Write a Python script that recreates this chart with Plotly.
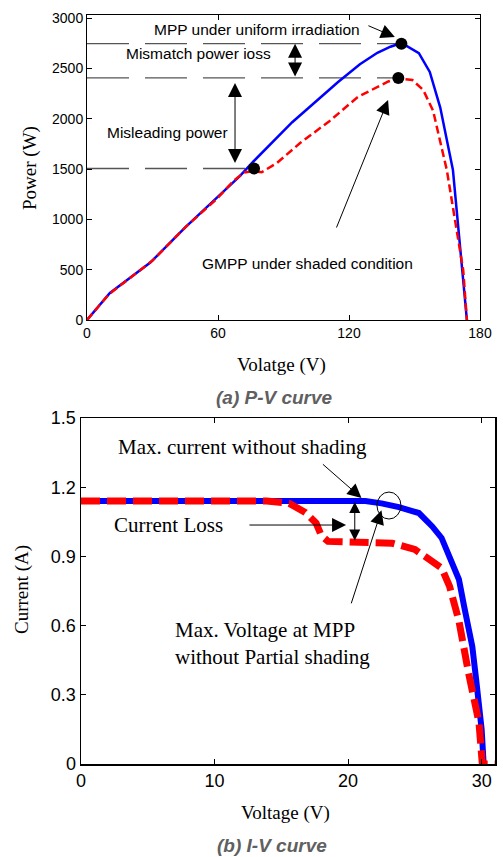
import plotly.graph_objects as go

W, H = 503, 857

# ---------------- data: (a) P-V curve ----------------
pv_v_uniform = [0, 10.5, 29, 45, 60, 70, 76, 94, 115, 125, 133, 139, 144, 152, 157, 161.8, 167.6, 171.7, 174]
pv_p_uniform = [0, 268, 570, 920, 1225, 1430, 1570, 1965, 2365, 2540, 2655, 2715, 2752, 2652, 2464, 2110, 1490, 497, 0]

pv_v_shaded = [0, 10, 30, 45, 60, 67, 72, 76, 80, 87, 97.6, 111, 124, 133, 138, 142.6, 149, 154, 158.5, 164.8, 168.5, 172.3, 174]
pv_p_shaded = [0, 255, 590, 920, 1215, 1380, 1465, 1478, 1468, 1560, 1758, 1975, 2215, 2320, 2370, 2400, 2384, 2285, 2080, 1490, 993, 497, 0]

# marked points: MPP (uniform), GMPP (shaded), local peak (shaded)
mark_v = [144, 142.6, 76.5]
mark_p = [2745, 2405, 1505]

pv_xticks = [0, 60, 120, 180]
pv_yticks = [0, 500, 1000, 1500, 2000, 2500, 3000]

# ---------------- data: (b) I-V curve ----------------
iv_v_uniform = [0, 21.3, 22.5, 23.8, 25.3, 26.3, 27.0, 27.8, 28.3, 28.7, 29.3, 29.6, 30.0, 30.15]
iv_i_uniform = [1.14, 1.14, 1.13, 1.114, 1.088, 1.03, 0.98, 0.87, 0.80, 0.68, 0.51, 0.36, 0.15, 0.0]

iv_v_shaded = [0, 13.9, 15.6, 16.8, 17.6, 18.0, 18.5, 20, 22, 23.3, 25, 26.3, 27.0, 27.6, 28.3, 29.0, 29.8, 30.05, 31]
iv_i_shaded = [1.14, 1.14, 1.13, 1.09, 1.045, 0.99, 0.965, 0.962, 0.96, 0.957, 0.93, 0.876, 0.85, 0.77, 0.62, 0.40, 0.18, 0.0, 0.0]

iv_xticks = [0, 10, 20, 30]
iv_yticks = [0, 0.3, 0.6, 0.9, 1.2, 1.5]
iv_yticktext = ["0", "0.3", "0.6", "0.9", "1.2", "1.5"]


def px(x):
    return x / W


def py(y):
    return 1 - y / H


SANS = "Liberation Sans, Arial, sans-serif"
SERIF = "Liberation Serif, Times New Roman, serif"

fig = go.Figure()

fig.add_trace(go.Scatter(x=pv_v_uniform, y=pv_p_uniform, mode="lines",
                         line=dict(color="#0000ff", width=2.5), xaxis="x", yaxis="y"))
fig.add_trace(go.Scatter(x=pv_v_shaded, y=pv_p_shaded, mode="lines",
                         line=dict(color="#ff0000", width=2.5, dash="8px,4px"), xaxis="x", yaxis="y"))
fig.add_trace(go.Scatter(x=mark_v, y=mark_p, mode="markers",
                         marker=dict(color="black", size=12), xaxis="x", yaxis="y"))

fig.add_trace(go.Scatter(x=iv_v_uniform, y=iv_i_uniform, mode="lines",
                         line=dict(color="#0000ff", width=6), xaxis="x2", yaxis="y2"))
fig.add_trace(go.Scatter(x=iv_v_shaded, y=iv_i_shaded, mode="lines",
                         line=dict(color="#ff0000", width=7, dash="19px,7px"), xaxis="x2", yaxis="y2"))

axis_common = dict(showline=True, mirror="ticks", ticks="inside", ticklen=5, automargin=False,
                   linecolor="black", tickcolor="black", showgrid=False, zeroline=False)

fig.update_layout(
    width=W, height=H,
    margin=dict(l=0, r=0, t=0, b=0, autoexpand=False),
    paper_bgcolor="white", plot_bgcolor="white",
    showlegend=False, hovermode=False,
    xaxis=dict(domain=[px(87), px(480)], range=[0, 180], tickvals=pv_xticks,
               tickfont=dict(family=SANS, size=14, color="black"), linewidth=1, anchor="y",
               **axis_common),
    yaxis=dict(domain=[py(320), py(15)], range=[0, 3030], tickvals=pv_yticks,
               tickfont=dict(family=SANS, size=14, color="black"), linewidth=1, anchor="x",
               **axis_common),
    xaxis2=dict(domain=[px(81), px(495)], range=[0, 31], tickvals=iv_xticks,
                tickfont=dict(family=SANS, size=18, color="black"), linewidth=1.5, anchor="y2",
                **axis_common),
    yaxis2=dict(domain=[py(764), py(418)], range=[0, 1.5], tickvals=iv_yticks, ticktext=iv_yticktext,
                tickfont=dict(family=SANS, size=18, color="black"), linewidth=1.5, anchor="x2",
                **axis_common),
)

# dashed reference lines (top chart)
for v, p in zip(mark_v, mark_p):
    fig.add_shape(type="line", xref="x", yref="y", x0=0, x1=v, y0=p, y1=p,
                  line=dict(color="#555555", width=1.3, dash="42px,16px"), layer="below")

# circle (bottom chart)
fig.add_shape(type="circle", xref="x2", yref="y2", x0=22.16, x1=23.96, y0=1.062, y1=1.179,
              line=dict(color="black", width=1))

ann = []


def text_px(t, x, y, size, family, color="black", **kw):
    ann.append(dict(text=t, x=px(x), y=py(y), xref="paper", yref="paper", showarrow=False,
                    font=dict(family=family, size=size, color=color), xanchor="center", yanchor="middle", **kw))


def arrow(xr, yr, x0, y0, x1, y1, side="end", size=2.8):
    ann.append(dict(text="", xref=xr, yref=yr, axref=xr, ayref=yr, x=x1, y=y1, ax=x0, ay=y0,
                    showarrow=True, arrowhead=2, arrowsize=size, arrowwidth=1, arrowcolor="black",
                    arrowside=side, standoff=0, startstandoff=0, startarrowhead=2, startarrowsize=size))


# top chart texts
text_px("MPP under uniform irradiation", 257, 29, 15.5, SANS)
text_px("Mismatch power ioss", 198, 53, 15.5, SANS)
text_px("Misleading power", 167, 132, 15.5, SANS)
text_px("GMPP under shaded condition", 307, 263, 15.5, SANS)
text_px("Power (W)", 30, 168, 19, SERIF, textangle=-90)
text_px("Volatge (V)", 281, 365, 19, SERIF)
text_px("<b><i>(a) P-V curve</i></b>", 274, 397, 19, SANS, color="#606060")

# top chart arrows
arrow("x", "y", 128.2, 2930, 141, 2811)
arrow("x", "y", 95.3, 2405, 95.3, 2745, side="end+start")
arrow("x", "y", 67.8, 1545, 67.8, 2355, side="end+start")
arrow("x", "y", 114, 904, 137.9, 2185)

# bottom chart texts
text_px("Max. current without shading", 242, 447, 21, SERIF)
text_px("Current Loss", 168, 525, 21, SERIF)
ann.append(dict(text="Max. Voltage at MPP<br>without Partial shading", x=px(173), y=py(643),
                xref="paper", yref="paper", showarrow=False, align="left",
                font=dict(family=SERIF, size=21, color="black"), xanchor="left", yanchor="middle"))
text_px("Current (A)", 22, 590, 19, SERIF, textangle=-90)
text_px("Voltage (V)", 285, 813, 19, SERIF)
text_px("<b><i>(b) I-V curve</i></b>", 272, 845, 19, SANS, color="#606060")

# bottom chart arrows
arrow("x2", "y2", 18.0, 1.305, 21.0, 1.153)
arrow("x2", "y2", 12.5, 1.036, 19.85, 1.036)
arrow("x2", "y2", 20.5, 0.962, 20.5, 1.136, side="end+start", size=2.2)
arrow("x2", "y2", 20.2, 0.69, 22.5, 1.10)

fig.update_layout(annotations=ann)

fig.write_html("out.html",
               config={"displayModeBar": False, "staticPlot": True},
               post_script="document.body.style.margin='0';document.body.style.overflow='hidden';")
